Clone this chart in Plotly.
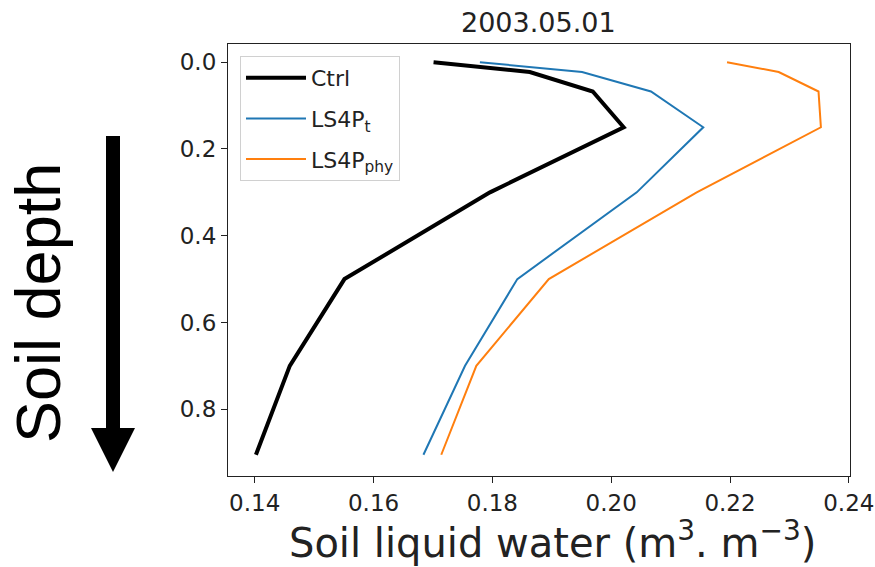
import plotly.graph_objects as go

# Soil layer depths (m) and liquid water content (m3/m3) on 2003.05.01
depth = [0.0, 0.0225, 0.0675, 0.15, 0.30, 0.50, 0.70, 0.905]
ctrl = [0.1701, 0.1863, 0.1969, 0.2021, 0.1796, 0.1551, 0.1459, 0.1402]
ls4p_t = [0.1779, 0.1951, 0.2067, 0.2155, 0.2043, 0.1842, 0.1754, 0.1684]
ls4p_phy = [0.2195, 0.2282, 0.2349, 0.2353, 0.2144, 0.1895, 0.1773, 0.1714]

x_ticks = [0.14, 0.16, 0.18, 0.20, 0.22, 0.24]
y_ticks = [0.0, 0.2, 0.4, 0.6, 0.8]

W, H = 875, 567
L, R, T, B = 228, 25, 44, 91
pw, ph = W - L - R, H - T - B


def px(x):
    return (x - L) / pw


def py(y):
    return (H - B - y) / ph


FONT = "DejaVu Sans"

fig = go.Figure()
fig.add_trace(go.Scatter(x=ctrl, y=depth, mode="lines", name="Ctrl",
                         line=dict(color="black", width=4), legendgroup="a"))
fig.add_trace(go.Scatter(x=ls4p_t, y=depth, mode="lines", name="LS4P<sub>t</sub>",
                         line=dict(color="#1f77b4", width=2), legendgroup="b"))
fig.add_trace(go.Scatter(x=ls4p_phy, y=depth, mode="lines", name="LS4P<sub>phy</sub>",
                         line=dict(color="#ff7f0e", width=2), legendgroup="c"))

axis_common = dict(showline=True, linecolor="#222", linewidth=1.2, mirror=True,
                   ticks="outside", ticklen=6, tickwidth=1.2, tickcolor="#222",
                   showgrid=False, zeroline=False, automargin=False,
                   tickfont=dict(family=FONT, size=23, color="#222"))

fig.update_xaxes(range=[0.1355, 0.2402], tickvals=x_ticks, tickformat=".2f", **axis_common)
fig.update_yaxes(range=[0.954, -0.042], tickvals=y_ticks, tickformat=".1f", **axis_common)

fig.update_layout(
    width=W, height=H,
    margin=dict(l=L, r=R, t=T, b=B, autoexpand=False),
    plot_bgcolor="white", paper_bgcolor="white",
    showlegend=True,
    legend=dict(x=px(240), y=py(56), xanchor="left", yanchor="top",
                bgcolor="rgba(255,255,255,0.8)", bordercolor="#d0d0d0", borderwidth=1,
                font=dict(family=FONT, size=22, color="#222"),
                tracegroupgap=9, itemwidth=60),
    annotations=[
        dict(text="2003.05.01", x=px(538), y=py(23), xref="paper", yref="paper",
             showarrow=False, xanchor="center", yanchor="middle",
             font=dict(family=FONT, size=27, color="#222")),
        dict(text="Soil liquid water (m<sup>3</sup>. m<sup>\u22123</sup>)",
             x=px(552), y=py(540), xref="paper", yref="paper",
             showarrow=False, xanchor="center", yanchor="middle",
             font=dict(family=FONT, size=40, color="#222")),
        dict(text="Soil depth", x=px(38), y=py(303), xref="paper", yref="paper",
             showarrow=False, xanchor="center", yanchor="middle", textangle=-90,
             font=dict(family="Liberation Sans", size=63, color="black")),
    ],
    shapes=[
        dict(type="path", xref="paper", yref="paper", fillcolor="black",
             line=dict(width=0),
             path=(f"M {px(106)},{py(136)} L {px(120)},{py(136)} L {px(120)},{py(428)} "
                   f"L {px(135)},{py(428)} L {px(113)},{py(472)} L {px(91)},{py(428)} "
                   f"L {px(106)},{py(428)} Z")),
    ],
)

fig.write_html("out.html")
